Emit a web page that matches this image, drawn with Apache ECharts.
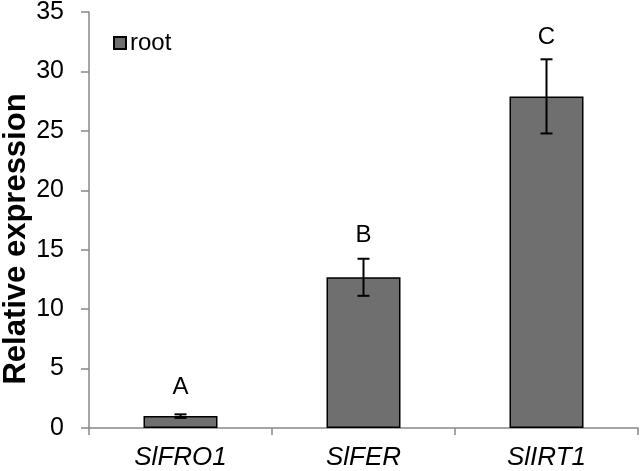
<!DOCTYPE html>
<html><head><meta charset="utf-8">
<script src="https://cdn.jsdelivr.net/npm/echarts@6/dist/echarts.min.js"></script>
<style>html,body{margin:0;padding:0;background:#fff}#c{width:642px;height:471px}</style>
</head><body><div id="c"></div>
<script>
var categories = ['SlFRO1', 'SlFER', 'SlIRT1'];
var values = [1.0, 12.68, 27.9];
var errors = [0.15, 1.56, 3.12];
var letters = ['A', 'B', 'C'];
var letterPos = [3.45, 16.2, 32.9];
var yTicks = [0, 5, 10, 15, 20, 25, 30, 35];

var chart = echarts.init(document.getElementById('c'));
var font = 'Liberation Sans, Arial, sans-serif';
chart.setOption({
  animation: false,
  grid: {left: 89, right: 4, top: 12, bottom: 43, containLabel: false, outerBoundsMode: 'none'},
  legend: {
    data: [{name: 'root', icon: 'rect'}],
    left: 108, top: 26, itemWidth: 12, itemHeight: 12, itemGap: 5,
    textStyle: {fontFamily: font, fontSize: 24, color: '#000', padding: [0, 0, 0, -1]}
  },
  xAxis: {
    type: 'category', data: categories,
    axisLine: {lineStyle: {color: '#888', width: 1.5}},
    axisTick: {show: true, alignWithLabel: false, length: 7, lineStyle: {color: '#888', width: 1.5}},
    axisLabel: {fontFamily: font, fontSize: 26, fontStyle: 'italic', color: '#000', margin: 17}
  },
  yAxis: {
    type: 'value', min: 0, max: 35, interval: 5,
    name: 'Relative expression', nameLocation: 'middle', nameGap: 57, nameMoveOverlap: false,
    nameTextStyle: {fontFamily: font, fontSize: 31, fontWeight: 'bold', color: '#000', padding: [0, 38, 0, 0]},
    axisLine: {show: true, lineStyle: {color: '#888', width: 1.5}},
    axisTick: {show: true, length: 8, lineStyle: {color: '#888', width: 1.5}},
    splitLine: {show: false},
    axisLabel: {fontFamily: font, fontSize: 25, color: '#000', margin: 25,
      formatter: function (v) { return yTicks.indexOf(v) >= 0 ? String(v) : ''; }}
  },
  series: [
    {
      name: 'root', type: 'bar', data: values, barWidth: 74,
      itemStyle: {color: '#6f6f6f', borderColor: '#000', borderWidth: 1.5}
    },
    {
      type: 'custom', name: 'err', z: 5,
      data: values.map(function (v, i) { return [i, v - errors[i], v + errors[i]]; }),
      renderItem: function (params, api) {
        var x = api.coord([api.value(0), 0])[0];
        var lo = api.coord([api.value(0), api.value(1)])[1];
        var hi = api.coord([api.value(0), api.value(2)])[1];
        var hw = 6;
        var st = {stroke: '#000', lineWidth: 2};
        return {type: 'group', children: [
          {type: 'line', shape: {x1: x, y1: lo, x2: x, y2: hi}, style: st},
          {type: 'line', shape: {x1: x - hw, y1: lo, x2: x + hw, y2: lo}, style: st},
          {type: 'line', shape: {x1: x - hw, y1: hi, x2: x + hw, y2: hi}, style: st}
        ]};
      }
    },
    {
      type: 'custom', name: 'letters', z: 6,
      data: letterPos.map(function (v, i) { return [i, v]; }),
      renderItem: function (params, api) {
        var p = api.coord([api.value(0), api.value(1)]);
        return {type: 'text', x: p[0], y: p[1], style: {
          text: letters[params.dataIndex], fontFamily: font, fontSize: 24,
          fill: '#000', align: 'center', verticalAlign: 'middle'}};
      }
    }
  ]
});
</script></body></html>
